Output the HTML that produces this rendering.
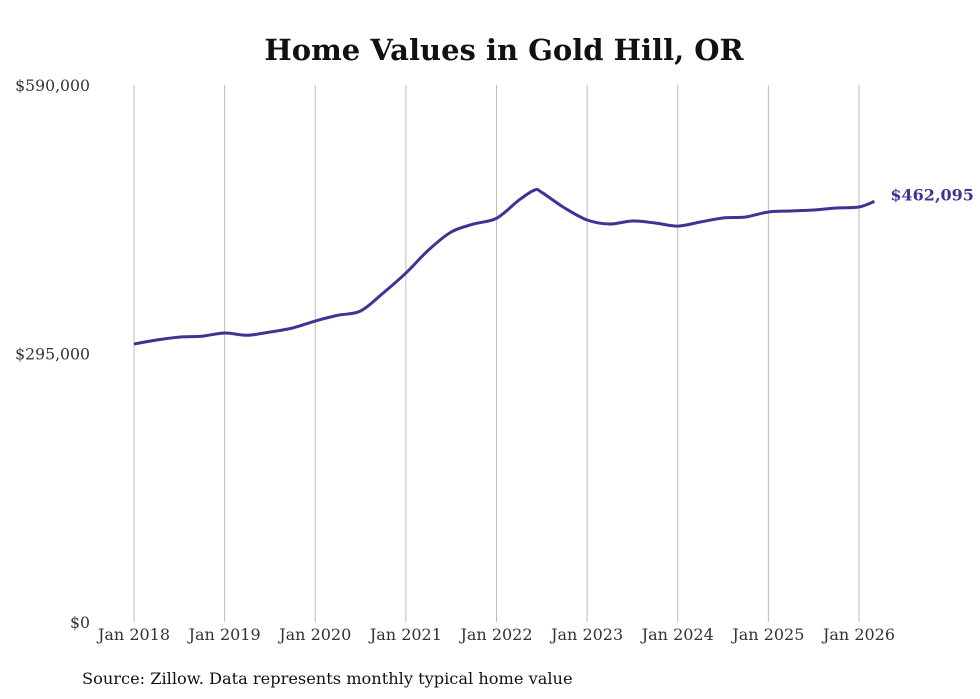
<!DOCTYPE html>
<html><head><meta charset="utf-8"><style>
body{margin:0;background:#fff;}
svg{display:block;font-family:"DejaVu Serif","Liberation Serif",serif;}
</style></head><body>
<svg id="chart" width="980" height="699">
<text x="504" y="60" text-anchor="middle" font-size="29" font-weight="bold" fill="#111">Home Values in Gold Hill, OR</text>
<g id="grid"></g><g id="yax"></g><g id="xax"></g><g id="series"></g>
<text x="82" y="684" font-size="16.2" fill="#111">Source: Zillow. Data represents monthly typical home value</text>
</svg>
<script>
const xTickLabels=["Jan 2018","Jan 2019","Jan 2020","Jan 2021","Jan 2022","Jan 2023","Jan 2024","Jan 2025","Jan 2026"];
const xTickYears=[2018,2019,2020,2021,2022,2023,2024,2025,2026];
const yTicks=[0,295000,590000];
const yTickLabels=["$0","$295,000","$590,000"];
const dates=[2018,2018.25,2018.5,2018.75,2019,2019.25,2019.5,2019.75,2020,2020.25,2020.5,2020.75,2021,2021.25,2021.5,2021.75,2022,2022.25,2022.42,2022.5,2022.75,2023,2023.25,2023.5,2023.75,2024,2024.25,2024.5,2024.75,2025,2025.25,2025.5,2025.75,2026,2026.17];
const values=[305400,309800,313000,314000,317500,315000,318600,323000,330700,337000,341700,361500,383400,408700,428500,437300,443600,463700,474600,472000,455000,441700,437300,440600,438400,435000,439500,443900,445000,450500,451600,452700,454900,456000,462095];
const lastLabel="$462,095";
const X=d=>134+(d-2018)*(859-134)/8;
const Y=v=>622-v/590000*537;
const NS="http://www.w3.org/2000/svg";
function mk(tag,attrs,parent,text){const e=document.createElementNS(NS,tag);for(const k in attrs)e.setAttribute(k,attrs[k]);if(text!==undefined)e.textContent=text;document.getElementById(parent).appendChild(e);return e;}
xTickYears.forEach((yr,i)=>{
 const l=mk('line',{x1:X(yr),x2:X(yr),y1:85,y2:622,stroke:'#bbb','stroke-width':1},'grid');
 
 
 const t=mk('text',{x:X(yr),y:640,'text-anchor':'middle','font-size':16,fill:'#333'},'xax',xTickLabels[i]);
 
 
});
yTicks.forEach((v,i)=>{
 const t=mk('text',{x:90,y:Y(v)+6,'text-anchor':'end','font-size':15.7,fill:'#333'},'yax',yTickLabels[i]);
 
 
});
const pts=dates.map((d,i)=>[X(d),Y(values[i])]);
let p='M'+pts[0][0]+','+pts[0][1];
for(let i=0;i<pts.length-1;i++){
 const p0=pts[i-1]||pts[i],p1=pts[i],p2=pts[i+1],p3=pts[i+2]||p2;
 const c1=[p1[0]+(p2[0]-p0[0])/6,p1[1]+(p2[1]-p0[1])/6];
 const c2=[p2[0]-(p3[0]-p1[0])/6,p2[1]-(p3[1]-p1[1])/6];
 p+=` C${c1[0]},${c1[1]} ${c2[0]},${c2[1]} ${p2[0]},${p2[1]}`;
}
const path=mk('path',{d:p,fill:'none',stroke:'#3d3592','stroke-width':3,'stroke-linejoin':'round'},'series');


const last=pts[pts.length-1];
const lt=mk('text',{x:last[0]+16,y:last[1]-1,'font-size':16,'font-weight':'bold',fill:'#3d3592'},'series',lastLabel);


</script>
</body></html>
